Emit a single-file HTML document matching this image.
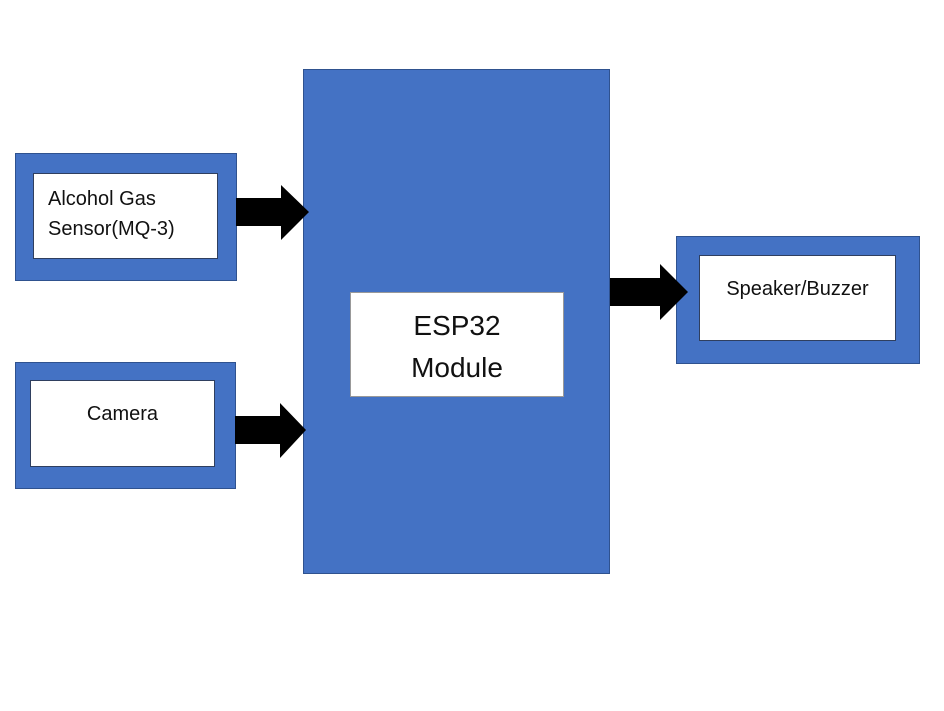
<!DOCTYPE html>
<html><head><style>
body{margin:0;width:944px;height:711px;background:#fff;position:relative;overflow:hidden;font-family:"Liberation Sans",sans-serif;}
.b{position:absolute;background:#4472c4;border:1px solid #2f528f;box-sizing:border-box;}
.w{position:absolute;background:#fff;border:1px solid #2f3f5f;box-sizing:border-box;color:#111;}
</style></head><body>
<div class="b" style="left:15px;top:153px;width:222px;height:128px"></div>
<div class="w" style="left:33px;top:173px;width:185px;height:86px;font-size:20px;line-height:30px;padding:10px 0 0 14px">Alcohol Gas<br>Sensor(MQ-3)</div>
<div class="b" style="left:15px;top:362px;width:221px;height:127px"></div>
<div class="w" style="left:30px;top:380px;width:185px;height:87px;font-size:20px;text-align:center;padding-top:22px">Camera</div>
<div class="b" style="left:303px;top:69px;width:307px;height:505px"></div>
<div class="w" style="left:350px;top:292px;width:214px;height:105px;font-size:28px;line-height:42px;text-align:center;padding-top:12px;border-color:#999">ESP32<br>Module</div>
<div class="b" style="left:676px;top:236px;width:244px;height:128px"></div>
<div class="w" style="left:699px;top:255px;width:197px;height:86px;font-size:20px;text-align:center;padding-top:22px">Speaker/Buzzer</div>
<svg width="944" height="711" style="position:absolute;left:0;top:0">
<polygon points="236,198 281,198 281,185 309,212 281,240 281,226 236,226" fill="#000"/>
<polygon points="235,416 280,416 280,403 306,430 280,458 280,444 235,444" fill="#000"/>
<polygon points="610,278 660,278 660,264 688,292 660,320 660,306 610,306" fill="#000"/>
</svg>
</body></html>
